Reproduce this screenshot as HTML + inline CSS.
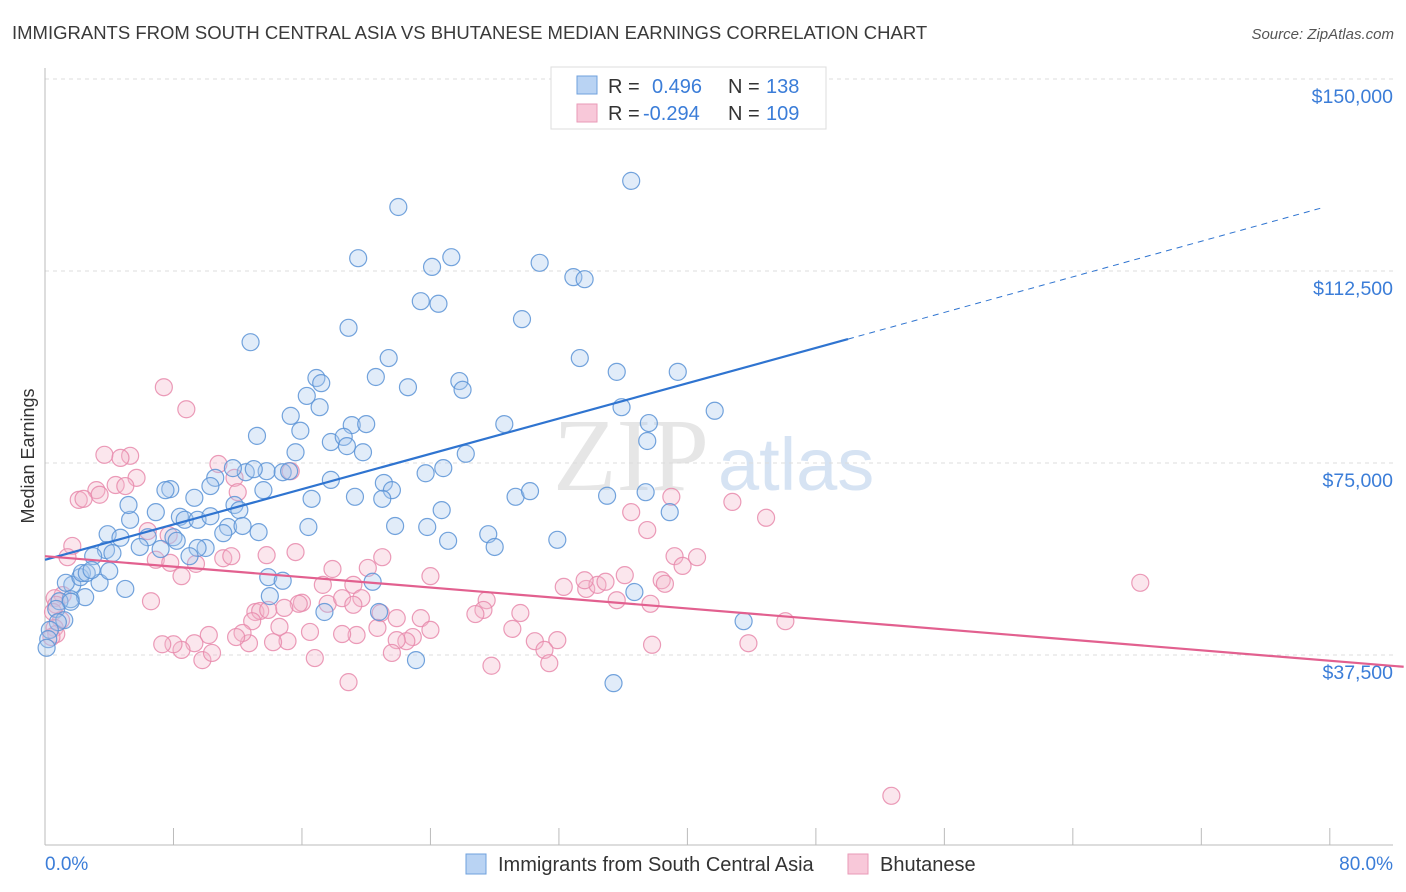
<!DOCTYPE html>
<html><head><meta charset="utf-8"><style>
body{margin:0;background:#fff;font-family:"Liberation Sans",sans-serif;}
svg{display:block}
</style></head><body>
<svg id="chart" width="1406" height="892" xmlns="http://www.w3.org/2000/svg">
<text x="12" y="39" font-size="18.5" fill="#3a3a3a">IMMIGRANTS FROM SOUTH CENTRAL ASIA VS BHUTANESE MEDIAN EARNINGS CORRELATION CHART</text>
<text x="1394" y="39" font-size="15" fill="#555" text-anchor="end" font-style="italic">Source: ZipAtlas.com</text>
<text transform="translate(34,456) rotate(-90)" font-size="18" fill="#333" text-anchor="middle">Median Earnings</text>
<g>
<text x="553" y="490" font-size="104" fill="#e6e6e6" font-family="Liberation Serif,serif">ZIP</text>
<text x="718" y="490" font-size="74" fill="#d6e3f3">atlas</text>
</g>
<g id="grid"></g><g id="axes"></g><g id="pink"></g><g id="blue"></g><g id="lines"></g>
<g>
<rect x="551" y="67" width="275" height="62" fill="#fff" stroke="#ddd"/>
<rect x="577" y="76" width="20" height="18" fill="#b9d3f3" stroke="#6fa0dd"/>
<rect x="577" y="104" width="20" height="18" fill="#f8c8d9" stroke="#e99ab7"/>
<text x="608" y="93" font-size="20" fill="#333">R = <tspan fill="#3b7dd8" x="652">0.496</tspan><tspan x="728" fill="#333">N = </tspan><tspan fill="#3b7dd8" x="766">138</tspan></text>
<text x="608" y="120" font-size="20" fill="#333">R = <tspan fill="#3b7dd8" x="643">-0.294</tspan><tspan x="728" fill="#333">N = </tspan><tspan fill="#3b7dd8" x="766">109</tspan></text>
</g>
<g>
<rect x="466" y="854" width="20" height="20" fill="#b9d3f3" stroke="#6fa0dd"/>
<text x="498" y="871" font-size="20" fill="#333">Immigrants from South Central Asia</text>
<rect x="848" y="854" width="20" height="20" fill="#f8c8d9" stroke="#e99ab7"/>
<text x="880" y="871" font-size="20" fill="#333">Bhutanese</text>
</g>
</svg>
<script>
const yTicks=[37500,75000,112500,150000];
const yTickLabels=["$37,500","$75,000","$112,500","$150,000"];
const xTicks=[0,8,16,24,32,40,48,56,64,72,80];
const blueX=[36.5,22.0,25.3,19.5,24.1,30.8,32.9,33.6,23.4,24.5,29.7,18.9,12.8,21.4,33.3,35.6,39.4,16.9,17.2,20.6,22.6,25.8,26.0,16.3,17.1,15.3,35.9,41.7,19.1,20.0,28.6,37.6,15.9,17.8,18.6,18.8,19.8,13.2,15.6,37.5,26.2,12.5,13.8,13.0,14.8,15.2,23.7,24.8,11.7,10.6,21.1,17.8,21.6,13.6,16.6,19.3,10.3,7.8,7.5,9.3,21.0,24.7,29.3,30.2,35.0,37.4,11.8,12.1,11.4,12.3,13.3,11.1,23.8,21.8,16.4,8.4,8.7,6.9,9.5,5.3,5.2,3.9,4.7,6.4,8.0,8.2,7.2,5.9,3.8,4.2,3.0,10.0,9.5,9.0,25.1,27.6,28.0,31.9,38.9,5.0,3.4,1.7,1.3,1.6,2.5,2.2,2.3,2.6,2.9,4.0,0.9,1.6,0.7,1.2,0.8,0.3,0.2,0.1,13.9,14.8,14.0,20.4,17.4,20.8,36.7,43.5,23.1,35.4,10.3];
const blueY=[130.1,125.0,115.2,115.0,113.3,114.1,111.3,110.9,106.6,106.1,103.1,101.4,98.6,95.5,95.5,92.8,92.8,91.6,90.6,91.8,89.8,91.0,89.3,88.1,85.9,84.2,85.9,85.2,82.4,82.6,82.6,82.8,81.3,79.1,80.1,78.3,77.1,80.3,77.1,79.3,76.8,73.2,73.4,73.8,73.2,73.4,73.0,74.0,74.0,72.1,71.1,71.7,69.7,69.7,68.0,68.4,70.5,69.9,69.7,68.2,68.0,65.8,68.4,69.5,68.6,69.3,66.8,65.8,62.5,62.7,61.5,61.3,62.5,62.7,62.5,64.5,63.9,65.4,63.9,63.9,66.8,61.1,60.4,60.5,60.5,59.8,58.2,58.6,58.0,57.4,56.8,58.4,58.4,56.8,59.8,61.1,58.6,60.0,65.4,50.4,51.6,51.2,51.6,48.4,48.8,52.7,53.5,53.5,54.1,53.9,48.0,47.9,46.5,44.3,43.9,42.4,40.6,38.9,52.7,52.0,49.0,51.8,45.9,45.9,49.8,44.1,36.5,32.0,64.6];
const pinkX=[7.4,8.8,3.7,5.3,4.7,5.7,10.8,11.8,15.3,3.2,3.4,4.4,2.1,2.4,5.0,12.0,6.4,7.7,1.7,1.4,6.9,7.8,9.4,11.1,11.6,13.8,15.6,21.0,17.9,20.1,8.5,24.0,6.6,1.1,0.6,0.7,0.5,1.0,0.6,0.7,0.4,17.3,19.2,16.0,15.8,17.6,18.5,19.7,19.2,13.1,13.4,13.9,14.9,12.9,14.6,20.9,21.9,23.4,27.5,27.3,26.8,29.6,32.3,33.7,34.4,34.9,36.1,33.6,35.6,37.7,38.4,38.6,39.2,40.6,39.7,36.5,37.5,39.0,42.8,44.9,68.2,46.1,43.8,37.8,30.5,31.9,31.1,29.1,24.0,22.9,22.5,21.9,20.7,19.4,18.5,16.5,15.1,14.2,12.7,12.3,11.9,10.2,9.3,8.5,8.0,7.3,9.8,10.4,21.6,16.8,18.9,27.8,31.4,52.7];
const pinkY=[89.8,85.5,76.6,76.4,76.0,72.1,74.8,72.1,73.4,69.7,68.8,70.7,67.8,68.0,70.5,69.3,61.7,60.9,58.8,56.6,56.1,55.5,55.3,56.4,56.8,57.0,57.6,56.6,54.3,54.5,52.9,52.9,48.0,49.2,48.6,47.3,45.9,44.3,42.8,41.6,41.0,51.2,51.2,47.7,47.5,47.5,48.6,48.6,47.3,45.9,46.1,46.3,46.7,44.1,43.0,45.7,44.7,44.7,48.2,46.3,45.5,45.7,50.8,50.4,51.2,51.8,53.1,52.1,48.2,47.5,52.1,51.4,56.8,56.6,54.9,65.4,61.9,68.4,67.4,64.3,51.6,44.1,39.8,39.5,40.2,40.4,38.5,42.6,42.4,41.0,40.2,40.4,42.8,41.4,41.6,42.0,40.2,40.0,39.8,41.8,41.0,41.4,39.8,38.5,39.6,39.6,36.5,37.9,37.9,36.9,32.2,35.4,35.9,10.0];
const blueTrendX=[0,50.0,79.7];
const blueTrendY=[56.1,99.2,125.0];
const pinkTrendX=[0,84.6];
const pinkTrendY=[56.8,35.2];

const NS="http://www.w3.org/2000/svg";
function xs(v){return 45+v*16.06;}
function ys(k){return 847-k*5.12;}
function mk(tag,attrs,parent){const e=document.createElementNS(NS,tag);for(const k in attrs)e.setAttribute(k,attrs[k]);parent.appendChild(e);return e;}
const grid=document.getElementById('grid'),axes=document.getElementById('axes');
yTicks.forEach((t,i)=>{
  const y=ys(t/1000);
  const l=mk('line',{x1:45,x2:1393,y1:y,y2:y,stroke:'#dcdcdc','stroke-dasharray':'4,4'},grid);
  
  
  const tx=mk('text',{x:1393,y:y+24,'font-size':19.5,fill:'#3b7dd8','text-anchor':'end'},axes);
  tx.textContent=yTickLabels[i];
  
  
});
const topLine=mk('line',{x1:45,x2:1393,y1:79,y2:79,stroke:'#dcdcdc','stroke-dasharray':'4,4'},grid);


const ya=mk('line',{x1:45,x2:45,y1:68,y2:845,stroke:'#bbb'},axes);


const xa=mk('line',{x1:45,x2:1393,y1:845,y2:845,stroke:'#bbb'},axes);


xTicks.forEach(t=>{
  const tk=mk('line',{x1:xs(t),x2:xs(t),y1:828,y2:845,stroke:'#bbb'},axes);
  
  
});
const x0=mk('text',{x:45,y:870,'font-size':19,fill:'#3b7dd8'},axes);x0.textContent='0.0%';


const x1=mk('text',{x:1393,y:870,'font-size':19,fill:'#3b7dd8','text-anchor':'end'},axes);x1.textContent='80.0%';


function dots(X,Y,g,fill,stroke,name){
  X.forEach((x,i)=>{
    const c=mk('circle',{cx:xs(x),cy:ys(Y[i]),r:8.5,fill:fill,'fill-opacity':0.35,stroke:stroke,'stroke-width':1.2,'stroke-opacity':0.85},g);
    
    
  });
}
dots(pinkX,pinkY,document.getElementById('pink'),'#f4b6cc','#e88aac','bhutanese-point');
dots(blueX,blueY,document.getElementById('blue'),'#a9c8ee','#5b93d6','south-central-asia-point');
const lg=document.getElementById('lines');
const b1=mk('line',{x1:xs(blueTrendX[0]),y1:ys(blueTrendY[0]),x2:xs(blueTrendX[1]),y2:ys(blueTrendY[1]),stroke:'#2f74d0','stroke-width':2.2},lg);


const b2=mk('line',{x1:xs(blueTrendX[1]),y1:ys(blueTrendY[1]),x2:xs(blueTrendX[2]),y2:ys(blueTrendY[2]),stroke:'#2f74d0','stroke-width':1,'stroke-dasharray':'6,5'},lg);


const p1=mk('line',{x1:xs(pinkTrendX[0]),y1:ys(pinkTrendY[0]),x2:xs(pinkTrendX[1]),y2:ys(pinkTrendY[1]),stroke:'#e2608f','stroke-width':2.2},lg);


</script>
</body></html>
